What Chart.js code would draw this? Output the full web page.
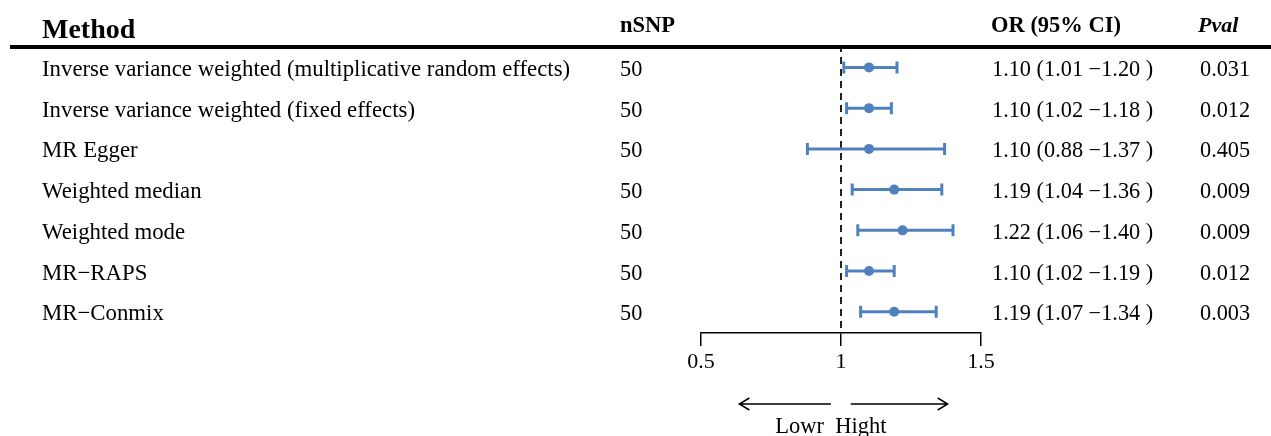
<!DOCTYPE html>
<html>
<head>
<meta charset="utf-8">
<script src="https://cdn.jsdelivr.net/npm/chart.js@4.4.1/dist/chart.umd.min.js"></script>
<style>
html,body{margin:0;padding:0;background:#fff;}
canvas{display:block;}
</style>
</head>
<body>
<canvas id="c" width="1271" height="436"></canvas>
<script>
const methods = [
  "Inverse variance weighted (multiplicative random effects)",
  "Inverse variance weighted (fixed effects)",
  "MR Egger",
  "Weighted median",
  "Weighted mode",
  "MR\u2212RAPS",
  "MR\u2212Conmix"
];
const nsnp = [50, 50, 50, 50, 50, 50, 50];
const orVals = [1.10, 1.10, 1.10, 1.19, 1.22, 1.10, 1.19];
const ciLow = [1.01, 1.02, 0.88, 1.04, 1.06, 1.02, 1.07];
const ciHigh = [1.20, 1.18, 1.37, 1.36, 1.40, 1.19, 1.34];
const pvals = ["0.031", "0.012", "0.405", "0.009", "0.009", "0.012", "0.003"];
const xTicks = [0.5, 1, 1.5];
const headers = ["Method", "nSNP", "OR (95% CI)", "Pval"];
const arrowLabels = ["Lowr", "Hight"];

const BLUE = "#4F81BD";
const FONT = "'Liberation Serif', 'Times New Roman', serif";

const errorBars = {
  id: "errorBars",
  afterDatasetDraw(chart, args) {
    if (args.index !== 1) return;
    const ctx = chart.ctx, xs = chart.scales.x, ys = chart.scales.y;
    ctx.save();
    ctx.strokeStyle = BLUE;
    ctx.lineWidth = 3;
    ctx.lineCap = "butt";
    for (let i = 0; i < orVals.length; i++) {
      const y = ys.getPixelForValue(i + 1);
      const xl = xs.getPixelForValue(ciLow[i]);
      const xh = xs.getPixelForValue(ciHigh[i]);
      ctx.beginPath();
      ctx.moveTo(xl, y); ctx.lineTo(xh, y);
      ctx.moveTo(xl, y - 6); ctx.lineTo(xl, y + 6);
      ctx.moveTo(xh, y - 6); ctx.lineTo(xh, y + 6);
      ctx.stroke();
    }
    ctx.restore();
  }
};

const textPlugin = {
  id: "tableText",
  afterDraw(chart) {
    const ctx = chart.ctx, xs = chart.scales.x, ys = chart.scales.y;
    ctx.save();
    ctx.fillStyle = "#000";
    ctx.textBaseline = "alphabetic";
    ctx.textAlign = "left";
    // headers
    ctx.font = "bold 28px " + FONT;
    ctx.fillText(headers[0], 42, 38);
    ctx.font = "bold 22.5px " + FONT;
    ctx.fillText(headers[1], 620, 31.5);
    ctx.fillText(headers[2], 991, 31.5);
    ctx.font = "italic bold 22px " + FONT;
    ctx.fillText(headers[3], 1198, 31.5);
    // header rule
    ctx.strokeStyle = "#000";
    ctx.lineWidth = 4;
    ctx.beginPath();
    ctx.moveTo(10, 47); ctx.lineTo(1271, 47);
    ctx.stroke();
    // rows
    for (let i = 0; i < methods.length; i++) {
      const y = ys.getPixelForValue(i + 1) + 8.5;
      ctx.font = "22.8px " + FONT;
      ctx.fillText(methods[i], 42, y);
      ctx.font = "22.3px " + FONT;
      ctx.fillText(String(nsnp[i]), 620, y);
      const s = orVals[i].toFixed(2) + " (" + ciLow[i].toFixed(2) + " \u2212" + ciHigh[i].toFixed(2) + " )";
      ctx.fillText(s, 992, y);
      ctx.fillText(pvals[i], 1200, y);
    }
    // arrows
    const ay = 404;
    const lt = xs.getPixelForValue(0.964), lh = xs.getPixelForValue(0.637);
    const rt = xs.getPixelForValue(1.035), rh = xs.getPixelForValue(1.381);
    ctx.lineWidth = 1.5;
    ctx.beginPath();
    ctx.moveTo(lt, ay); ctx.lineTo(lh, ay);
    ctx.moveTo(lh + 10, ay - 6); ctx.lineTo(lh, ay); ctx.lineTo(lh + 10, ay + 6);
    ctx.moveTo(rt, ay); ctx.lineTo(rh, ay);
    ctx.moveTo(rh - 10, ay - 6); ctx.lineTo(rh, ay); ctx.lineTo(rh - 10, ay + 6);
    ctx.stroke();
    ctx.font = "22.5px " + FONT;
    ctx.textAlign = "center";
    ctx.fillText(arrowLabels[0] + "  " + arrowLabels[1], xs.getPixelForValue(0.964), 433);
    ctx.restore();
  }
};

new Chart(document.getElementById("c"), {
  data: {
    datasets: [
      {
        type: "scatter",
        data: orVals.map((v, i) => ({ x: v, y: i + 1 })),
        backgroundColor: BLUE,
        borderColor: BLUE,
        borderWidth: 0,
        pointRadius: 5,
        order: 1
      },
      {
        type: "line",
        data: [{ x: 1, y: 0.45 }, { x: 1, y: 7.52 }],
        borderColor: "#222",
        borderWidth: 2,
        borderDash: [7, 5],
        pointRadius: 0,
        fill: false,
        order: 2
      }
    ]
  },
  options: {
    responsive: false,
    animation: false,
    devicePixelRatio: 1,
    layout: { padding: { left: 701, right: 290, top: 45, bottom: 0 } },
    plugins: { legend: { display: false }, tooltip: { enabled: false } },
    scales: {
      x: {
        type: "linear",
        min: 0.5,
        max: 1.5,
        afterBuildTicks: s => { s.ticks = xTicks.map(v => ({ value: v })); },
        afterFit: s => { s.height = 103; },
        grid: { drawOnChartArea: false, drawTicks: true, tickLength: 13, color: "#000", lineWidth: 1.5 },
        border: { display: true, color: "#000", width: 1.5 },
        ticks: { color: "#000", font: { family: FONT, size: 22 }, padding: 3, maxRotation: 0, callback: v => String(v) }
      },
      y: {
        type: "linear",
        min: 0.45,
        max: 7.52,
        reverse: true,
        display: false
      }
    }
  },
  plugins: [errorBars, textPlugin]
});
</script>
</body>
</html>
